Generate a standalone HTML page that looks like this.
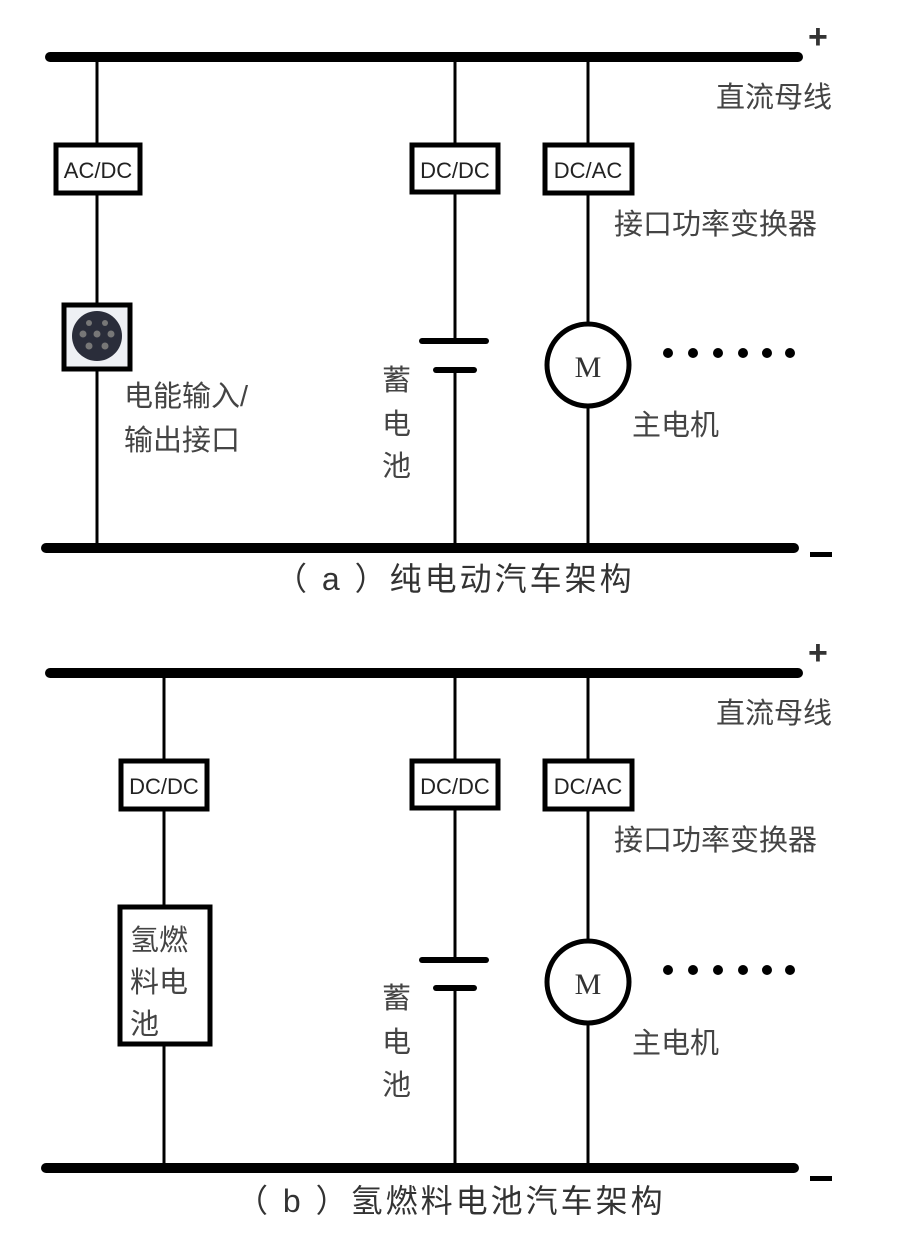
<!DOCTYPE html>
<html><head><meta charset="utf-8"><style>
html,body{margin:0;padding:0;background:#fff;}
svg{display:block;}
text{font-family:"Liberation Sans","Noto Sans CJK SC",sans-serif;fill:#333;}
.lbl{font-size:29px;fill:#444;}
.box{font-size:22px;fill:#222;}
</style></head><body>
<svg width="911" height="1251" viewBox="0 0 911 1251" xmlns="http://www.w3.org/2000/svg">
<g id="a">
 <line x1="50" y1="57" x2="798" y2="57" stroke="#000" stroke-width="10" stroke-linecap="round"/>
 <line x1="46" y1="548" x2="794" y2="548" stroke="#000" stroke-width="10" stroke-linecap="round"/>
 <text x="808" y="48" font-size="34" font-weight="bold" fill="#000">+</text>
 <rect x="810" y="552" width="22" height="5" fill="#000"/>
 <line x1="97" y1="57" x2="97" y2="548" stroke="#000" stroke-width="3"/>
 <line x1="455" y1="57" x2="455" y2="341" stroke="#000" stroke-width="3"/>
 <line x1="455" y1="370" x2="455" y2="548" stroke="#000" stroke-width="3"/>
 <line x1="588" y1="57" x2="588" y2="548" stroke="#000" stroke-width="3"/>
 <rect x="56" y="145" width="84" height="48" fill="#fff" stroke="#000" stroke-width="5"/>
 <text class="box" x="98" y="178" text-anchor="middle">AC/DC</text>
 <rect x="412" y="145" width="86" height="47" fill="#fff" stroke="#000" stroke-width="5"/>
 <text class="box" x="455" y="178" text-anchor="middle">DC/DC</text>
 <rect x="545" y="145" width="87" height="48" fill="#fff" stroke="#000" stroke-width="5"/>
 <text class="box" x="588" y="178" text-anchor="middle">DC/AC</text>
 <rect x="64" y="305" width="66" height="64" fill="#eef0f4" stroke="#000" stroke-width="5"/>
 <circle cx="97" cy="336" r="25" fill="#2a2d3a"/>
 <g fill="#777"><circle cx="89" cy="323" r="3"/><circle cx="105" cy="323" r="3"/><circle cx="83" cy="334" r="3.5"/><circle cx="97" cy="334" r="3.5"/><circle cx="111" cy="334" r="3.5"/><circle cx="89" cy="346" r="3.5"/><circle cx="105" cy="346" r="3.5"/></g>
 <line x1="422" y1="341" x2="486" y2="341" stroke="#000" stroke-width="6" stroke-linecap="round"/>
 <line x1="436" y1="370" x2="474" y2="370" stroke="#000" stroke-width="6" stroke-linecap="round"/>
 <circle cx="588" cy="365" r="41" fill="#fff" stroke="#000" stroke-width="5"/>
 <text x="588" y="377" text-anchor="middle" font-family="Liberation Serif" font-size="30" fill="#333" style="font-family:'Liberation Serif',serif">M</text>
 <g fill="#000"><circle cx="668" cy="353" r="5"/><circle cx="693" cy="353" r="5"/><circle cx="718" cy="353" r="5"/><circle cx="743" cy="353" r="5"/><circle cx="767" cy="353" r="5"/><circle cx="790" cy="353" r="5"/></g>
 <text class="lbl" x="716" y="107">直流母线</text>
 <text class="lbl" x="614" y="234">接口功率变换器</text>
 <text class="lbl" x="124" y="406">电能输入/</text>
 <text class="lbl" x="124" y="450">输出接口</text>
 <text class="lbl" x="382" y="390">蓄</text>
 <text class="lbl" x="382" y="434">电</text>
 <text class="lbl" x="382" y="476">池</text>
 <text class="lbl" x="632" y="435">主电机</text>
 <text x="275" y="590" font-size="32" fill="#333" letter-spacing="3">（ a ）纯电动汽车架构</text>
</g>
<g id="b">
 <line x1="50" y1="673" x2="798" y2="673" stroke="#000" stroke-width="10" stroke-linecap="round"/>
 <line x1="46" y1="1168" x2="794" y2="1168" stroke="#000" stroke-width="10" stroke-linecap="round"/>
 <text x="808" y="664" font-size="34" font-weight="bold" fill="#000">+</text>
 <rect x="810" y="1176" width="22" height="5" fill="#000"/>
 <line x1="164" y1="673" x2="164" y2="1168" stroke="#000" stroke-width="3"/>
 <line x1="455" y1="673" x2="455" y2="960" stroke="#000" stroke-width="3"/>
 <line x1="455" y1="988" x2="455" y2="1168" stroke="#000" stroke-width="3"/>
 <line x1="588" y1="673" x2="588" y2="1168" stroke="#000" stroke-width="3"/>
 <rect x="121" y="761" width="86" height="48" fill="#fff" stroke="#000" stroke-width="5"/>
 <text class="box" x="164" y="794" text-anchor="middle">DC/DC</text>
 <rect x="412" y="761" width="86" height="47" fill="#fff" stroke="#000" stroke-width="5"/>
 <text class="box" x="455" y="794" text-anchor="middle">DC/DC</text>
 <rect x="545" y="761" width="87" height="48" fill="#fff" stroke="#000" stroke-width="5"/>
 <text class="box" x="588" y="794" text-anchor="middle">DC/AC</text>
 <rect x="120" y="907" width="90" height="137" fill="#fff" stroke="#000" stroke-width="5"/>
 <text class="lbl" x="130" y="950">氢燃</text>
 <text class="lbl" x="130" y="992">料电</text>
 <text class="lbl" x="130" y="1034">池</text>
 <line x1="422" y1="960" x2="486" y2="960" stroke="#000" stroke-width="6" stroke-linecap="round"/>
 <line x1="436" y1="988" x2="474" y2="988" stroke="#000" stroke-width="6" stroke-linecap="round"/>
 <circle cx="588" cy="982" r="41" fill="#fff" stroke="#000" stroke-width="5"/>
 <text x="588" y="994" text-anchor="middle" font-size="30" fill="#333" style="font-family:'Liberation Serif',serif">M</text>
 <g fill="#000"><circle cx="668" cy="970" r="5"/><circle cx="693" cy="970" r="5"/><circle cx="718" cy="970" r="5"/><circle cx="743" cy="970" r="5"/><circle cx="767" cy="970" r="5"/><circle cx="790" cy="970" r="5"/></g>
 <text class="lbl" x="716" y="723">直流母线</text>
 <text class="lbl" x="614" y="850">接口功率变换器</text>
 <text class="lbl" x="382" y="1008">蓄</text>
 <text class="lbl" x="382" y="1052">电</text>
 <text class="lbl" x="382" y="1095">池</text>
 <text class="lbl" x="632" y="1053">主电机</text>
 <text x="236" y="1212" font-size="32" fill="#333" letter-spacing="3">（ b ）氢燃料电池汽车架构</text>
</g>
</svg>
</body></html>
